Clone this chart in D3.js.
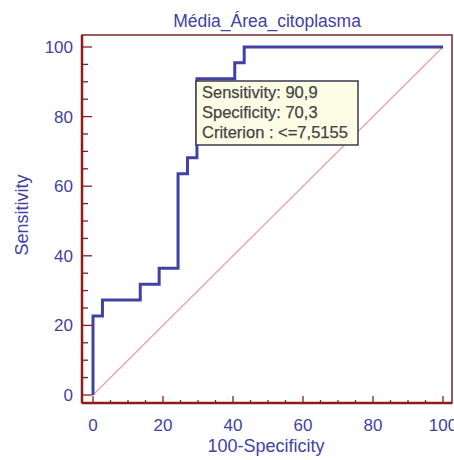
<!DOCTYPE html>
<html>
<head>
<meta charset="utf-8">
<script src="https://cdn.jsdelivr.net/npm/d3@7"></script>
<style>
  body { margin: 0; background: #fff; }
  text { font-family: "Liberation Sans", Arial, sans-serif; }
</style>
</head>
<body>
<svg id="chart" width="454" height="460"></svg>
<script>
// ROC curve points (100-Specificity, Sensitivity)
const fpr = [0, 0, 2.7, 2.7, 13.5, 13.5, 18.9, 18.9, 24.3, 24.3, 27.0, 27.0, 29.7, 29.7, 40.5, 40.5, 43.2, 43.2, 100];
const tpr = [0, 22.7, 22.7, 27.3, 27.3, 31.8, 31.8, 36.4, 36.4, 63.6, 63.6, 68.2, 68.2, 90.9, 90.9, 95.5, 95.5, 100, 100];
const refLine = [0, 100];
const majorTicks = [0, 20, 40, 60, 80, 100];
const minorTicks = d3.range(0, 101, 5);
const tipLines = ['Sensitivity: 90,9', 'Specificity: 70,3', 'Criterion : <=7,5155'];

const svg = d3.select('#chart');
const frame = {left: 82, right: 452, top: 35, bottom: 403};

const x = d3.scaleLinear().domain([0, 100]).range([93, 443]);
const y = d3.scaleLinear().domain([0, 100]).range([395, 47]);

const axisRed = '#8c1c1c', blue = '#4242a4';

// frame
svg.append('rect')
    .attr('x', frame.left).attr('y', frame.top)
    .attr('width', frame.right - frame.left).attr('height', frame.bottom - frame.top)
    .attr('fill', '#fff').attr('stroke', '#7a2630').attr('stroke-width', 1.5);

// reference diagonal
svg.append('line')
    .attr('x1', x(refLine[0])).attr('y1', y(refLine[0]))
    .attr('x2', x(refLine[1])).attr('y2', y(refLine[1]))
    .attr('stroke', '#e3a3a8').attr('stroke-width', 1.2);

// ticks (inward) on left and bottom
const ticks = svg.append('g').attr('stroke', axisRed).attr('stroke-width', 1.3);
minorTicks.forEach(v => {
    const major = majorTicks.includes(v);
    ticks.append('line').attr('x1', frame.left).attr('x2', frame.left + (major ? 10 : 6))
        .attr('y1', y(v)).attr('y2', y(v));
    ticks.append('line').attr('y1', frame.bottom).attr('y2', frame.bottom - (major ? 7 : 3))
        .attr('x1', x(v)).attr('x2', x(v));
});
// axis lines
svg.append('line').attr('x1', frame.left).attr('x2', frame.left)
    .attr('y1', frame.top).attr('y2', frame.bottom)
    .attr('stroke', axisRed).attr('stroke-width', 2.5);
svg.append('line').attr('x1', frame.left).attr('x2', frame.right)
    .attr('y1', frame.bottom).attr('y2', frame.bottom)
    .attr('stroke', axisRed).attr('stroke-width', 2.5);

// tick labels
svg.append('g').selectAll('text').data(majorTicks).join('text')
    .attr('x', frame.left - 9).attr('y', d => y(d) + 6)
    .attr('text-anchor', 'end').attr('font-size', 17).attr('fill', blue)
    .text(d => d);
svg.append('g').selectAll('text').data(majorTicks).join('text')
    .attr('x', d => x(d)).attr('y', 431)
    .attr('text-anchor', 'middle').attr('font-size', 17).attr('fill', blue)
    .text(d => d);

// ROC curve
const line = d3.line().x(d => x(d[0])).y(d => y(d[1]));
svg.append('path')
    .datum(d3.zip(fpr, tpr))
    .attr('d', line)
    .attr('fill', 'none').attr('stroke', blue).attr('stroke-width', 3);

// tooltip box
const tip = svg.append('g');
tip.append('rect').attr('x', 196).attr('y', 81).attr('width', 162).attr('height', 64)
    .attr('fill', '#fdfde6').attr('stroke', '#3a3a50').attr('stroke-width', 1.5);
tip.selectAll('text').data(tipLines).join('text')
    .attr('x', 202).attr('y', (d, i) => 98 + i * 20)
    .attr('font-size', 16.5).attr('fill', '#454545')
    .attr('stroke', '#454545').attr('stroke-width', 0.25)
    .text(d => d);

// titles
svg.append('text').attr('x', 267).attr('y', 27).attr('text-anchor', 'middle')
    .attr('font-size', 17.5).attr('fill', blue).text('Média_Área_citoplasma');
svg.append('text').attr('x', 266).attr('y', 452).attr('text-anchor', 'middle')
    .attr('font-size', 18).attr('fill', blue).text('100-Specificity');
svg.append('text').attr('transform', 'translate(28,215) rotate(-90)').attr('text-anchor', 'middle')
    .attr('font-size', 18).attr('fill', blue).text('Sensitivity');
</script>
</body>
</html>
